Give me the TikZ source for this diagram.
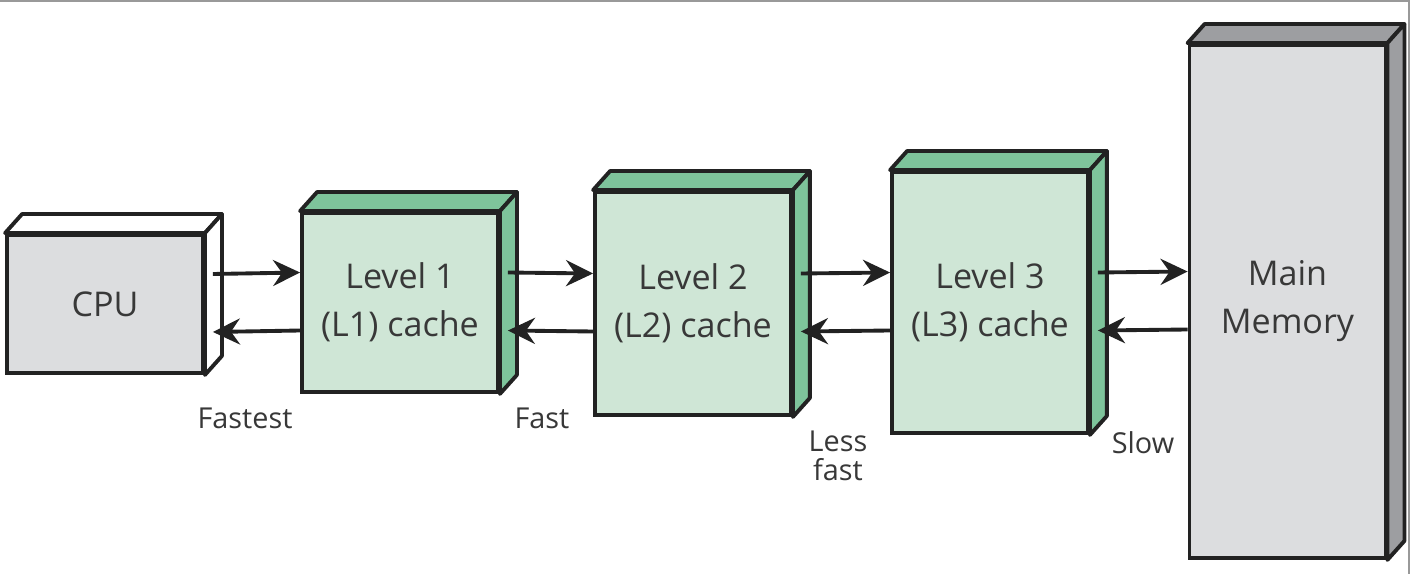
\documentclass[tikz,border=0pt]{standalone}
\usepackage{fontspec}
\setmainfont{Open Sans}
\usepackage{tikz}
\usepackage{xcolor}
\usetikzlibrary{arrows.meta}

\definecolor{frontgray}{HTML}{DCDDDF}
\definecolor{sidegray}{HTML}{9D9EA1}
\definecolor{frontgreen}{HTML}{CFE6D6}
\definecolor{sidegreen}{HTML}{7EC49B}
\definecolor{edgecol}{HTML}{222222}
\definecolor{txtcol}{HTML}{383838}

% top and side faces of a box, behind its front node
\newcommand{\boxdepth}[2]{%
  \filldraw[fill=#2, draw=edgecol, line width=1.1pt, line join=round]
    (#1.north west) -- ++(0.17,0.19) -- ([shift={(0.17,0.19)}]#1.north east) -- (#1.north east) -- cycle;
  \filldraw[fill=#2, draw=edgecol, line width=1.1pt, line join=round]
    (#1.north east) -- ++(0.17,0.19) -- ([shift={(0.17,0.19)}]#1.south east) -- (#1.south east) -- cycle;
}

\begin{document}
\begin{tikzpicture}[
    unit/.style={draw=edgecol, line width=1.1pt, minimum width=1.96cm, inner sep=0pt,
      align=center, text=txtcol, font=\fontsize{9.7}{13.7}\selectfont},
    flow/.style={-{Stealth[length=2.7mm, width=2.6mm, inset=0.9mm]}, line width=1.1pt, draw=edgecol},
    speed/.style={text=txtcol, align=center, font=\fontsize{8.2}{8.4}\selectfont}
  ]
  \useasboundingbox (0,0) rectangle (14.10,5.74);
  \draw[gray!80, line width=0.6pt] (0,5.73) -- (14.09,5.73) -- (14.09,0);

  % Boxes
  \node[unit, fill=frontgray, minimum height=1.38cm] (cpu) at (1.05,2.70) {CPU};
  \node[unit, fill=frontgreen, minimum height=1.79cm] (l1) at (4.00,2.715) {Level 1\\(L1) cache};
  \node[unit, fill=frontgreen, minimum height=2.23cm] (l2) at (6.93,2.705) {Level 2\\(L2) cache};
  \node[unit, fill=frontgreen, minimum height=2.61cm] (l3) at (9.90,2.715) {Level 3\\(L3) cache};
  \node[unit, fill=frontgray, minimum height=5.13cm] (mem) at (12.875,2.725) {Main\\Memory};

  \boxdepth{cpu}{white}
  \boxdepth{l1}{sidegreen}
  \boxdepth{l2}{sidegreen}
  \boxdepth{l3}{sidegreen}
  \boxdepth{mem}{sidegray}

  % Transfers
  \foreach \a/\b in {cpu/l1, l1/l2, l2/l3, l3/mem} {
    \draw[flow] ([shift={(0.08,0.30)}]\a.east) -- ([yshift=0.30cm]\b.west);
    \draw[flow] ([yshift=-0.28cm]\b.west) -- ([shift={(0.08,-0.28)}]\a.east);
  }

  % Speeds
  \node[speed] (fastest) at (2.45,1.56) {Fastest};
  \node[speed] (fast) at (5.42,1.56) {Fast};
  \node[speed] (lessfast) at (8.38,1.18) {Less\\fast};
  \node[speed] (slow) at (11.43,1.31) {Slow};
\end{tikzpicture}
\end{document}
